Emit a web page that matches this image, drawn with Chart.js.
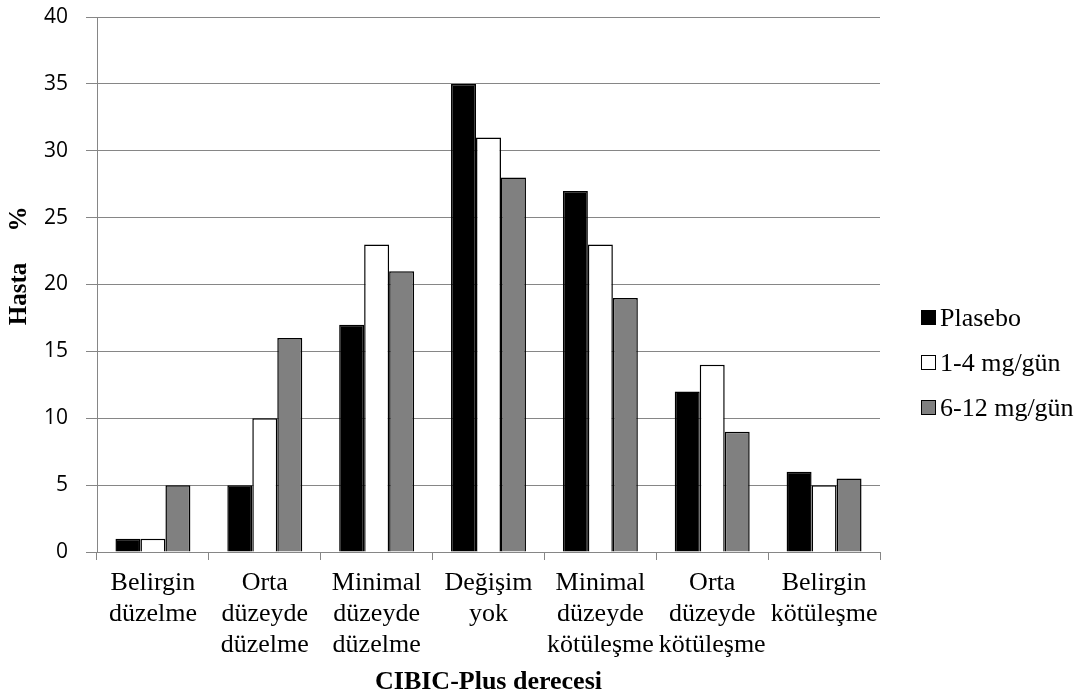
<!DOCTYPE html>
<html>
<head>
<meta charset="utf-8">
<script src="https://cdn.jsdelivr.net/npm/chart.js@4"></script>
<style>
  html,body{margin:0;padding:0;background:#fff}
  #wrap{position:relative;width:1083px;height:698px}
  #legend{position:absolute;left:921px;top:295px;font-family:"Liberation Serif",serif;font-size:26px;color:#000}
  #legend .it{display:flex;align-items:center;height:45px;white-space:nowrap}
  #legend .sw{width:15px;height:15px;box-sizing:border-box;border:1.5px solid #000;margin-right:4px}
</style>
</head>
<body>
<div id="wrap">
  <canvas id="c" width="1083" height="698"></canvas>
  <div id="legend"></div>
</div>
<script>
// kategoriler (x ekseni) ve seriler
const CATEGORIES = [
  ['Belirgin','düzelme'],
  ['Orta','düzeyde','düzelme'],
  ['Minimal','düzeyde','düzelme'],
  ['Değişim','yok'],
  ['Minimal','düzeyde','kötüleşme'],
  ['Orta','düzeyde','kötüleşme'],
  ['Belirgin','kötüleşme']
];
const PLASEBO   = [1, 5, 17, 35, 27, 12, 6];
const DOSE_1_4  = [1, 10, 23, 31, 23, 14, 5];
const DOSE_6_12 = [5, 16, 21, 28, 19, 9, 5.5];
const SERIES_NAMES = ['Plasebo', '1-4 mg/gün', '6-12 mg/gün'];
const Y_TICKS = [0, 5, 10, 15, 20, 25, 30, 35, 40];

const COLORS = ['#000000', '#ffffff', '#808080'];
const GRID = '#868686';
const SERIF = '"Liberation Serif", "Times New Roman", serif';

const datasets = [PLASEBO, DOSE_1_4, DOSE_6_12].map((d,i)=>({
  label: SERIES_NAMES[i], data: d,
  backgroundColor: COLORS[i], borderColor: '#000', borderWidth: 1.5,
  categoryPercentage: 0.67, barPercentage: 1.0
}));

new Chart(document.getElementById('c'), {
  type: 'bar',
  data: {labels: CATEGORIES, datasets},
  options: {
    responsive: false, animation: false,
    layout: {padding: {top: 17, right: 203, left: 5, bottom: 0}},
    plugins: {legend: {display: false}, tooltip: {enabled: false}},
    scales: {
      x: {
        offset: true,
        afterFit: ax => { ax.height = 146; },
        grid: {offset: true, drawOnChartArea: false, color: GRID, tickLength: 8, lineWidth: 1},
        border: {color: GRID, width: 1},
        ticks: {color: '#000', padding: 8, maxRotation: 0, autoSkip: false,
                font: {family: SERIF, size: 26, lineHeight: 1.19}},
        title: {display: true, text: 'CIBIC-Plus derecesi', color: '#000', padding: {top: 6, bottom: 0},
                font: {family: SERIF, size: 26, weight: 'bold', lineHeight: 1.2}}
      },
      y: {
        min: 0, max: 40,
        afterFit: ax => { ax.width = 92; ax.paddingTop = 0; ax.paddingBottom = 0; },
        afterBuildTicks: ax => { ax.ticks = Y_TICKS.map(v=>({value: v})); },
        grid: {color: GRID, lineWidth: 1, tickLength: 11},
        border: {color: GRID, width: 1},
        ticks: {color: '#000', padding: 18, font: {family: '"Open Sans", sans-serif', size: 21, lineHeight: 1.0}},
        title: {display: true, text: '      Hasta     %', color: '#000', padding: {top: 0, bottom: 10},
                font: {family: SERIF, size: 25, weight: 'bold', lineHeight: 1.2}}
      }
    }
  }
});

document.getElementById('legend').innerHTML = SERIES_NAMES.map((n,i)=>
  `<div class="it"><span class="sw" style="background:${COLORS[i]}"></span>${n}</div>`).join('');
</script>
</body>
</html>
